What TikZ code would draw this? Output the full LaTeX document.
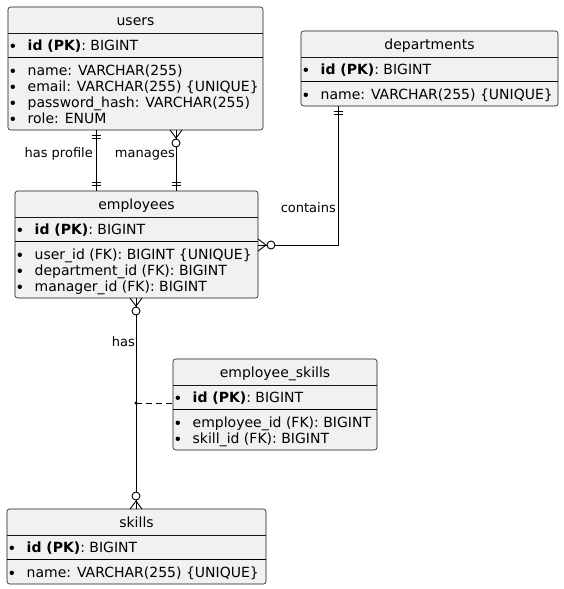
\documentclass[tikz,border=0pt]{standalone}
\usepackage{fontspec}
\setmainfont{DejaVu Sans}
\usetikzlibrary{calc}
\definecolor{boxfill}{HTML}{F1F1F1}
\definecolor{boxline}{HTML}{181818}
\tikzset{
  ebox/.style={draw=boxline, fill=boxfill, line width=0.6pt, rounded corners=2.5pt, inner sep=0pt, outer sep=0pt, anchor=north west},
  ttl/.style={anchor=base, inner sep=0pt, font=\fontsize{14}{16}\selectfont},
  attr/.style={anchor=base west, inner sep=0pt, font=\fontsize{14}{16}\selectfont},
  lbl/.style={anchor=base east, inner sep=0pt, font=\fontsize{13}{15}\selectfont},
  rel/.style={draw=black, line width=0.9pt},
  sepA/.style={draw=boxline, line width=0.6pt},
  sepB/.style={draw=black, line width=1pt},
}
% entity frame: #1 name, #2 L, #3 R, #4 T, #5 number of attributes, #6 title
\newcommand\mkentity[6]{%
  \node[ebox, minimum width=#3pt-#2pt, minimum height=68pt+16pt*(#5-1)+7pt] (#1) at (#2,#4) {};
  \draw[sepA] ($(#1.north west)+(0,26)$) -- ($(#1.north east)+(0,26)$);
  \draw[sepB] ($(#1.north west)+(0,50)$) -- ($(#1.north east)+(0,50)$);
  \node[ttl] (#1-title) at ($(#1.north)+(0,18)$) {#6};
  \erow{#1}{pk}{43}{\textbf{id (PK)}: BIGINT}%
}
% row: #1 entity, #2 row name, #3 baseline offset from top, #4 text
\newcommand\erow[4]{%
  \fill[black] ($(#1.north west)+(4.8,#3-4.2)$) circle[radius=2.2pt];
  \node[attr] (#1-#2) at ($(#1.north west)+(19.5,#3)$) {#4};
}
\newcommand\barsdown[1]{\draw[rel] ($(#1)+(-4.5,5.5)$) -- ++(9,0) ($(#1)+(-4.5,8.5)$) -- ++(9,0);}
\newcommand\barsup[1]{\draw[rel] ($(#1)+(-4.5,-5.5)$) -- ++(9,0) ($(#1)+(-4.5,-8.5)$) -- ++(9,0);}
\newcommand\crowdown[1]{\draw[rel] ($(#1)+(-6,0)$) -- ($(#1)+(0,8)$) -- ($(#1)+(6,0)$);
  \draw[rel, fill=white] ($(#1)+(0,13)$) circle[radius=4pt];}
\newcommand\crowup[1]{\draw[rel] ($(#1)+(-6,0)$) -- ($(#1)+(0,-8)$) -- ($(#1)+(6,0)$);
  \draw[rel, fill=white] ($(#1)+(0,-13)$) circle[radius=4pt];}
\newcommand\crowright[1]{\draw[rel] ($(#1)+(0,-6)$) -- ($(#1)+(8,0)$) -- ($(#1)+(0,6)$);
  \draw[rel, fill=white] ($(#1)+(13,0)$) circle[radius=4pt];}
\begin{document}
\begin{tikzpicture}[x=1pt, y=-1pt]
\useasboundingbox[fill=white] (0,0) rectangle (564,589);

% users
\mkentity{users}{8}{263}{7}{4}{users}
\erow{users}{a1}{68}{name: VARCHAR(255)}
\erow{users}{a2}{84}{email: VARCHAR(255) \{UNIQUE\}}
\erow{users}{a3}{100}{password\_hash: VARCHAR(255)}
\erow{users}{a4}{116}{role: ENUM}

% departments
\mkentity{dep}{301}{558}{31}{1}{departments}
\erow{dep}{a1}{68}{name: VARCHAR(255) \{UNIQUE\}}

% employees
\mkentity{emp}{15}{258}{191}{3}{employees}
\erow{emp}{a1}{68}{user\_id (FK): BIGINT \{UNIQUE\}}
\erow{emp}{a2}{84}{department\_id (FK): BIGINT}
\erow{emp}{a3}{100}{manager\_id (FK): BIGINT}

% employee_skills
\mkentity{es}{173}{377}{359}{2}{employee\_skills}
\erow{es}{a1}{68}{employee\_id (FK): BIGINT}
\erow{es}{a2}{84}{skill\_id (FK): BIGINT}

% skills
\mkentity{skills}{7}{266}{509}{1}{skills}
\erow{skills}{a1}{68}{name: VARCHAR(255) \{UNIQUE\}}

% has profile
\coordinate (p1) at ($(users.south west)+(88,0)$);
\coordinate (p2) at ($(emp.north west)+(81,0)$);
\draw[rel] (p1) -- (p2);
\barsdown{p1}
\barsup{p2}
\node[lbl] (lhp) at ($(p1)+(-3,27)$) {has profile};

% manages
\coordinate (m1) at ($(users.south west)+(168,0)$);
\coordinate (m2) at ($(emp.north west)+(161,0)$);
\draw[rel] (m1) -- (m2);
\crowdown{m1}
\barsup{m2}
\node[lbl] (lman) at ($(m1)+(-1,27)$) {manages};

% contains
\coordinate (c1) at ($(dep.south west)+(37,0)$);
\coordinate (c2) at ($(emp.north east)+(0,54)$);
\draw[rel] (c1) |- (c2);
\barsdown{c1}
\crowright{c2}
\node[lbl] (lcon) at ($(c1)+(-2,106)$) {contains};

% has (employees - skills)
\coordinate (h1) at ($(emp.south west)+(121,0)$);
\coordinate (h2) at ($(skills.north west)+(129,0)$);
\draw[rel] (h1) -- (h2);
\crowdown{h1}
\crowup{h2}
\node[lbl] (lhas) at ($(h1)+(-1,48.5)$) {has};

% association class link
\coordinate (esj) at ($(es.north west)+(0,44)$);
\coordinate (j) at (h1 |- esj);
\draw[rel, dash pattern=on 6pt off 4pt] (j) -- (esj);
\fill[black] (j) circle[radius=1.6pt];
\end{tikzpicture}
\end{document}
